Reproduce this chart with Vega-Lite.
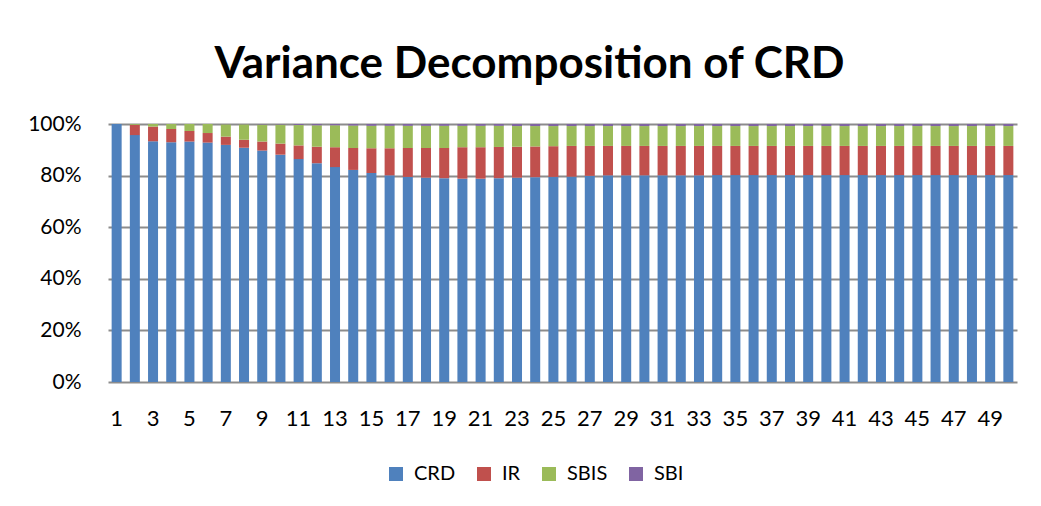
{
  "$schema": "https://vega.github.io/schema/vega-lite/v6.json",
  "width": 909,
  "height": 258,
  "autosize": "none",
  "padding": {"left": 108, "top": 124, "right": 24, "bottom": 124},
  "background": "white",
  "title": {"text": "Variance Decomposition of CRD", "font": "Lato", "fontSize": 44, "fontWeight": "bold", "color": "black", "dx": -33, "offset": 26, "anchor": "middle"},
  "config": {"view": {"stroke": null}},
  "data": {"values": [
    {"t": 1, "CRD": 100, "IR": 0, "SBIS": 0, "SBI": 0},
    {"t": 2, "CRD": 95.7, "IR": 4.0, "SBIS": 0.3, "SBI": 0},
    {"t": 3, "CRD": 93.3, "IR": 5.7, "SBIS": 1.0, "SBI": 0},
    {"t": 4, "CRD": 92.9, "IR": 5.2, "SBIS": 1.9, "SBI": 0},
    {"t": 5, "CRD": 93.2, "IR": 4.1, "SBIS": 2.7, "SBI": 0},
    {"t": 6, "CRD": 92.8, "IR": 3.7, "SBIS": 3.5, "SBI": 0},
    {"t": 7, "CRD": 91.9, "IR": 3.2, "SBIS": 4.8, "SBI": 0.1},
    {"t": 8, "CRD": 90.8, "IR": 3.1, "SBIS": 6.0, "SBI": 0.1},
    {"t": 9, "CRD": 89.7, "IR": 3.5, "SBIS": 6.6, "SBI": 0.2},
    {"t": 10, "CRD": 88.1, "IR": 4.3, "SBIS": 7.4, "SBI": 0.2},
    {"t": 11, "CRD": 86.4, "IR": 5.3, "SBIS": 7.9, "SBI": 0.4},
    {"t": 12, "CRD": 84.8, "IR": 6.4, "SBIS": 8.3, "SBI": 0.5},
    {"t": 13, "CRD": 83.3, "IR": 7.7, "SBIS": 8.5, "SBI": 0.5},
    {"t": 14, "CRD": 82.2, "IR": 8.5, "SBIS": 8.7, "SBI": 0.6},
    {"t": 15, "CRD": 81.0, "IR": 9.6, "SBIS": 8.7, "SBI": 0.7},
    {"t": 16, "CRD": 80.1, "IR": 10.5, "SBIS": 8.7, "SBI": 0.7},
    {"t": 17, "CRD": 79.5, "IR": 11.2, "SBIS": 8.6, "SBI": 0.7},
    {"t": 18, "CRD": 79.2, "IR": 11.5, "SBIS": 8.6, "SBI": 0.7},
    {"t": 19, "CRD": 79.0, "IR": 11.7, "SBIS": 8.6, "SBI": 0.7},
    {"t": 20, "CRD": 78.8, "IR": 12.2, "SBIS": 8.3, "SBI": 0.7},
    {"t": 21, "CRD": 78.8, "IR": 12.2, "SBIS": 8.3, "SBI": 0.7},
    {"t": 22, "CRD": 79.0, "IR": 12.1, "SBIS": 8.2, "SBI": 0.7},
    {"t": 23, "CRD": 79.2, "IR": 12.0, "SBIS": 8.0, "SBI": 0.8},
    {"t": 24, "CRD": 79.4, "IR": 11.9, "SBIS": 7.9, "SBI": 0.8},
    {"t": 25, "CRD": 79.5, "IR": 11.9, "SBIS": 7.8, "SBI": 0.8},
    {"t": 26, "CRD": 79.6, "IR": 11.9, "SBIS": 7.7, "SBI": 0.8},
    {"t": 27, "CRD": 79.9, "IR": 11.6, "SBIS": 7.7, "SBI": 0.8},
    {"t": 28, "CRD": 80.1, "IR": 11.4, "SBIS": 7.7, "SBI": 0.8},
    {"t": 29, "CRD": 80.1, "IR": 11.4, "SBIS": 7.7, "SBI": 0.8},
    {"t": 30, "CRD": 80.1, "IR": 11.4, "SBIS": 7.7, "SBI": 0.8},
    {"t": 31, "CRD": 80.1, "IR": 11.4, "SBIS": 7.7, "SBI": 0.8},
    {"t": 32, "CRD": 80.1, "IR": 11.4, "SBIS": 7.7, "SBI": 0.8},
    {"t": 33, "CRD": 80.1, "IR": 11.4, "SBIS": 7.7, "SBI": 0.8},
    {"t": 34, "CRD": 80.2, "IR": 11.3, "SBIS": 7.7, "SBI": 0.8},
    {"t": 35, "CRD": 80.2, "IR": 11.3, "SBIS": 7.7, "SBI": 0.8},
    {"t": 36, "CRD": 80.2, "IR": 11.3, "SBIS": 7.7, "SBI": 0.8},
    {"t": 37, "CRD": 80.2, "IR": 11.3, "SBIS": 7.7, "SBI": 0.8},
    {"t": 38, "CRD": 80.2, "IR": 11.3, "SBIS": 7.7, "SBI": 0.8},
    {"t": 39, "CRD": 80.2, "IR": 11.3, "SBIS": 7.7, "SBI": 0.8},
    {"t": 40, "CRD": 80.2, "IR": 11.3, "SBIS": 7.7, "SBI": 0.8},
    {"t": 41, "CRD": 80.2, "IR": 11.3, "SBIS": 7.7, "SBI": 0.8},
    {"t": 42, "CRD": 80.2, "IR": 11.3, "SBIS": 7.7, "SBI": 0.8},
    {"t": 43, "CRD": 80.2, "IR": 11.3, "SBIS": 7.7, "SBI": 0.8},
    {"t": 44, "CRD": 80.2, "IR": 11.3, "SBIS": 7.7, "SBI": 0.8},
    {"t": 45, "CRD": 80.2, "IR": 11.3, "SBIS": 7.7, "SBI": 0.8},
    {"t": 46, "CRD": 80.2, "IR": 11.3, "SBIS": 7.7, "SBI": 0.8},
    {"t": 47, "CRD": 80.2, "IR": 11.3, "SBIS": 7.7, "SBI": 0.8},
    {"t": 48, "CRD": 80.2, "IR": 11.3, "SBIS": 7.7, "SBI": 0.8},
    {"t": 49, "CRD": 80.2, "IR": 11.3, "SBIS": 7.7, "SBI": 0.8},
    {"t": 50, "CRD": 80.2, "IR": 11.3, "SBIS": 7.7, "SBI": 0.8}
  ]},
  "transform": [
    {"fold": ["CRD", "IR", "SBIS", "SBI"], "as": ["series", "value"]},
    {"calculate": "indexof(['CRD','IR','SBIS','SBI'], datum.series)", "as": "ord"}
  ],
  "mark": {"type": "bar"},
  "encoding": {
    "x": {
      "field": "t", "type": "ordinal",
      "scale": {"paddingInner": 0.45, "paddingOuter": 0.2},
      "axis": {"values": [1,3,5,7,9,11,13,15,17,19,21,23,25,27,29,31,33,35,37,39,41,43,45,47,49],
               "labelAngle": 0, "title": null, "ticks": false, "domain": false,
               "labelFont": "Lato", "labelFontSize": 22, "labelColor": "black", "labelPadding": 26}
    },
    "y": {
      "field": "value", "type": "quantitative", "stack": "normalize",
      "scale": {"domain": [0, 1]},
      "axis": {"format": ".0%", "values": [0, 0.2, 0.4, 0.6, 0.8, 1], "title": null, "ticks": false, "domain": false,
               "grid": true, "gridColor": "#8c8c8c", "gridWidth": 2,
               "labelFont": "Lato", "labelFontSize": 21, "labelColor": "black", "labelPadding": 27}
    },
    "color": {
      "field": "series", "type": "nominal",
      "scale": {"domain": ["CRD", "IR", "SBIS", "SBI"], "range": ["#4F81BD", "#C0504D", "#9BBB59", "#8064A2"]},
      "legend": {"orient": "none", "legendX": 278, "legendY": 340, "direction": "horizontal", "title": null,
                 "symbolType": "square", "symbolSize": 196, "symbolStrokeWidth": 0, "symbolOpacity": 1,
                 "labelFont": "Lato", "labelFontSize": 20, "labelColor": "black", "labelOffset": 8, "columnPadding": 18}
    },
    "order": {"field": "ord", "type": "quantitative"}
  }
}
